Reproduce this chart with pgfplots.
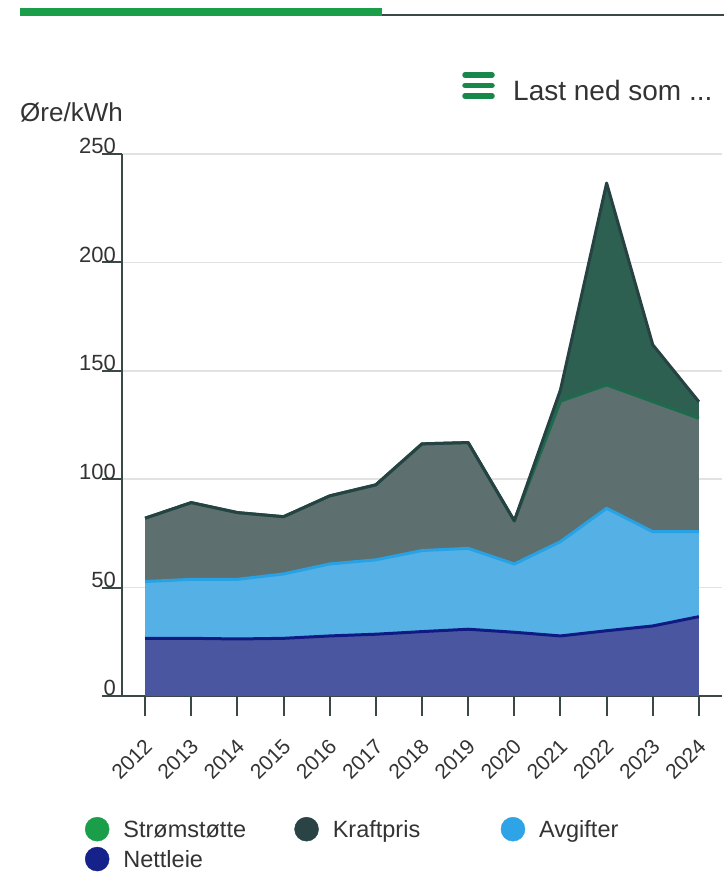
\documentclass[border=0pt]{standalone}
\usepackage{pgfplots}
\pgfplotsset{compat=1.18}
\usepgfplotslibrary{fillbetween}
\usepackage{pgfplotstable}
\usepackage{fontspec}
\setmainfont{Liberation Sans}
\definecolor{cNfill}{HTML}{4B56A0}
\definecolor{cNline}{HTML}{0F1B82}
\definecolor{cAfill}{HTML}{54B0E5}
\definecolor{cAline}{HTML}{27A2E4}
\definecolor{cKfill}{HTML}{5E6F70}
\definecolor{cKline}{HTML}{264243}
\definecolor{cSfill}{HTML}{2D6050}
\definecolor{cSline}{HTML}{1E6A4C}
\definecolor{cSleg}{HTML}{1A9E4A}
\definecolor{cKleg}{HTML}{2A4446}
\definecolor{cAleg}{HTML}{2EA3E6}
\definecolor{cNleg}{HTML}{15228A}
\definecolor{axisc}{HTML}{3A4848}
\definecolor{gridc}{HTML}{E2E2E2}
\definecolor{txt}{HTML}{333333}
\definecolor{topgreen}{HTML}{1A9E4A}
\definecolor{icon}{HTML}{17884A}

% N = Nettleie, A = Nettleie+Avgifter, G = +Kraftpris+Stromstotte, T = +Kraftpris (top)
\pgfplotstableread{
year N A G T
2012 26.6 52.8 82.0 82.0
2013 26.6 53.8 89.2 89.2
2014 26.3 53.8 84.6 84.6
2015 26.6 56.3 82.7 82.7
2016 27.7 60.9 92.3 92.3
2017 28.5 62.8 97.4 97.4
2018 29.7 67.1 116.3 116.3
2019 30.8 68.1 116.9 116.9
2020 29.4 60.9 80.8 80.8
2021 27.7 71.2 136.0 141.2
2022 30.1 86.6 143.5 236.6
2023 32.3 75.8 135.8 162.0
2024 36.6 75.8 128.1 135.7
}\data

\begin{document}
\begin{tikzpicture}
\path (0pt,0pt) rectangle (724pt,873pt);
\fill[topgreen] (20pt,857pt) rectangle (382pt,865pt);
\draw[axisc, line width=2pt] (382pt,858pt) -- (724pt,858pt);
\draw[icon, line width=5.5pt, line cap=round] (465pt,798pt) -- (492pt,798pt);
\draw[icon, line width=5.5pt, line cap=round] (465pt,787.5pt) -- (492pt,787.5pt);
\draw[icon, line width=5.5pt, line cap=round] (465pt,777pt) -- (492pt,777pt);
\node[anchor=base west, inner sep=0pt, font=\fontsize{28}{30}\selectfont, text=txt] at (513pt,772pt) {Last ned som ...};
\node[anchor=base west, inner sep=0pt, font=\fontsize{26}{28}\selectfont, text=txt] at (20pt,751pt) {Øre/kWh};
\begin{axis}[
  at={(122pt,177pt)}, anchor=south west,
  scale only axis, width=600pt, height=542pt,
  xmin=2011.5, xmax=2024.5, ymin=0, ymax=250,
  axis x line=bottom, axis y line=left,
  axis line style={-, draw=axisc, line width=2pt},
  xtick={2012,2013,2014,2015,2016,2017,2018,2019,2020,2021,2022,2023,2024},
  xticklabels={2012,2013,2014,2015,2016,2017,2018,2019,2020,2021,2022,2023,2024},
  ytick={0,50,100,150,200,250},
  tick align=outside, major tick length=20pt,
  tick style={draw=axisc, line width=2pt},
  ymajorgrids, major grid style={draw=gridc, line width=1.5pt},
  /pgf/number format/assume math mode=true,
  yticklabel style={font=\fontsize{22}{24}\selectfont, text=txt, anchor=base east, inner sep=0pt, xshift=14pt, yshift=0pt},
  xticklabel style={font=\fontsize{21}{23}\selectfont, text=txt, rotate=45, anchor=east, inner sep=0pt, xshift=-16.4pt, yshift=-21.1pt},
  no markers,
  legend columns=3,
  legend cell align=left,
  legend style={at={(axis description cs:-0.0617,-0.2232)}, anchor=north west,
    draw=none, fill=none, inner sep=0pt, outer sep=0pt,
    font=\fontsize{23.5}{26}\selectfont, text=txt, row sep=5.5pt,
    nodes={inner sep=0pt}, cells={anchor=base west},
    /tikz/every odd column/.append style={column sep=14pt},
    /tikz/every even column/.append style={column sep=0pt}},
]
\addplot[draw=none, name path=base, forget plot] coordinates {(2012,0) (2024,0)};
\addplot[draw=none, name path=N, forget plot] table[x=year,y=N]{\data};
\addplot[draw=none, name path=A, forget plot] table[x=year,y=A]{\data};
\addplot[draw=none, name path=G, forget plot] table[x=year,y=G]{\data};
\addplot[draw=none, name path=T, forget plot] table[x=year,y=T]{\data};
\addplot[fill=cKfill, draw=none, forget plot] fill between[of=T and A];
\addplot[fill=cSfill, draw=none, forget plot] fill between[of=T and G];
\addplot[fill=cAfill, draw=none, forget plot] fill between[of=A and N];
\addplot[fill=cNfill, draw=none, forget plot] fill between[of=N and base];
\addplot[cSline, line width=3pt, line join=round, forget plot] table[x=year,y=G]{\data};
\addplot[cKline, line width=3pt, line join=round, forget plot] table[x=year,y=T]{\data};
\addplot[cAline, line width=3pt, line join=round, forget plot] table[x=year,y=A]{\data};
\addplot[cNline, line width=3pt, line join=round, forget plot] table[x=year,y=N]{\data};
\addlegendimage{legend image code/.code={\fill[cSleg] (12pt,8.4pt) circle (12pt);}}
\addlegendentry{\makebox[171pt][l]{Strømstøtte}}
\addlegendimage{legend image code/.code={\fill[cKleg] (12pt,8.4pt) circle (12pt);}}
\addlegendentry{\makebox[168pt][l]{Kraftpris}}
\addlegendimage{legend image code/.code={\fill[cAleg] (12pt,8.4pt) circle (12pt);}}
\addlegendentry{Avgifter}
\addlegendimage{legend image code/.code={\fill[cNleg] (12pt,8.4pt) circle (12pt);}}
\addlegendentry{\makebox[171pt][l]{Nettleie}}
\end{axis}
\end{tikzpicture}
\end{document}
